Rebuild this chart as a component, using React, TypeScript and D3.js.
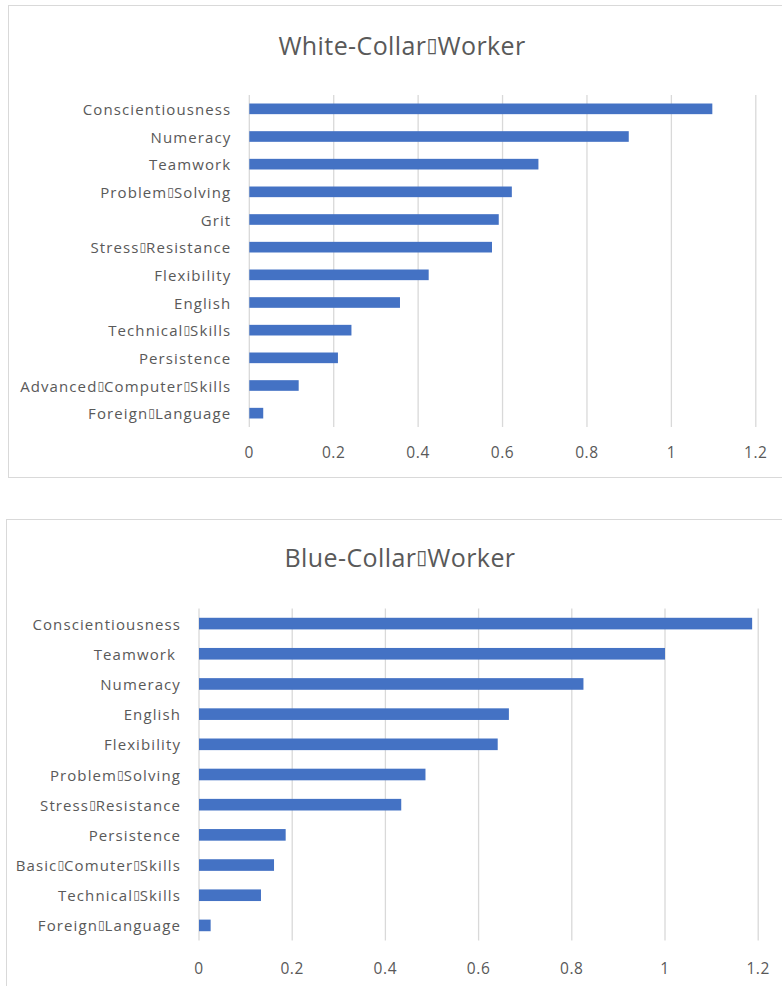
import React, { useEffect, useRef } from 'react';
import * as d3 from 'd3';

// the source shows a missing-glyph box where the spaces should be
const SEP = '\u25AF';

const whiteCategories = [
  'Conscientiousness',
  'Numeracy',
  'Teamwork',
  `Problem${SEP}Solving`,
  'Grit',
  `Stress${SEP}Resistance`,
  'Flexibility',
  'English',
  `Technical${SEP}Skills`,
  'Persistence',
  `Advanced${SEP}Computer${SEP}Skills`,
  `Foreign${SEP}Language`,
];
const whiteValues = [1.097, 0.899, 0.685, 0.622, 0.591, 0.575, 0.425, 0.357, 0.242, 0.21, 0.117, 0.033];

const blueCategories = [
  'Conscientiousness',
  'Teamwork ',
  'Numeracy',
  'English',
  'Flexibility',
  `Problem${SEP}Solving`,
  `Stress${SEP}Resistance`,
  'Persistence',
  `Basic${SEP}Comuter${SEP}Skills`,
  `Technical${SEP}Skills`,
  `Foreign${SEP}Language`,
];
const blueValues = [1.187, 1.0, 0.825, 0.665, 0.641, 0.486, 0.434, 0.186, 0.161, 0.133, 0.025];

const xTicks = [0, 0.2, 0.4, 0.6, 0.8, 1, 1.2];

const FONT = '"Open Sans", Calibri, sans-serif';
const TEXT = '#595959';

type Layout = {
  box: { x: number; y: number; w: number; h: number };
  left: number;
  right: number;
  top: number;
  bottom: number;
  titleX: number;
  titleY: number;
  tickY: number;
};

type Props = {
  title: string;
  categories: string[];
  values: number[];
  layout: Layout;
};

// draw the box glyph a bit smaller, from a font that has it
function writeBoxed(sel: d3.Selection<SVGTextElement, any, any, any>, str: string, size: number) {
  str.split(SEP).forEach((p, i) => {
    if (i > 0) {
      sel.append('tspan')
        .style('font-family', '"DejaVu Sans"')
        .style('font-size', `${size * 0.8}px`)
        .style('letter-spacing', '0px')
        .text(SEP);
    }
    sel.append('tspan').text(p);
  });
}

const BarChart: React.FC<Props> = ({ title, categories, values, layout }) => {
  const gRef = useRef<SVGGElement>(null);

  useEffect(() => {
    const g = d3.select(gRef.current);
    g.selectAll('*').remove();

    const x = d3.scaleLinear().domain([0, 1.2]).range([layout.left, layout.right]);
    const y = d3.scaleBand<string>()
      .domain(categories)
      .range([layout.top, layout.bottom])
      .paddingInner(0.615)
      .paddingOuter(0.3075);

    g.append('rect')
      .attr('x', layout.box.x)
      .attr('y', layout.box.y)
      .attr('width', layout.box.w)
      .attr('height', layout.box.h)
      .attr('fill', '#fff')
      .attr('stroke', '#d9d9d9')
      .attr('stroke-width', 1);

    const t = g.append('text')
      .attr('x', layout.titleX)
      .attr('y', layout.titleY)
      .attr('text-anchor', 'middle')
      .attr('dominant-baseline', 'central')
      .style('font-family', FONT)
      .style('font-size', '25px')
      .style('letter-spacing', '0.4px')
      .attr('fill', TEXT);
    writeBoxed(t, title, 25);

    // vertical gridlines
    g.append('g')
      .selectAll('line')
      .data(xTicks)
      .enter().append('line')
      .attr('x1', d => x(d))
      .attr('x2', d => x(d))
      .attr('y1', layout.top)
      .attr('y2', layout.bottom)
      .attr('stroke', '#d9d9d9')
      .attr('stroke-width', 1.3);

    g.append('g')
      .selectAll('rect')
      .data(values)
      .enter().append('rect')
      .attr('x', x(0))
      .attr('y', (_, i) => y(categories[i]) as number)
      .attr('width', d => x(d) - x(0))
      .attr('height', y.bandwidth())
      .attr('fill', '#4472C4');

    g.append('g')
      .selectAll('text')
      .data(categories)
      .enter().append('text')
      .attr('x', layout.left - 18)
      .attr('y', d => (y(d) as number) + y.bandwidth() / 2)
      .attr('text-anchor', 'end')
      .attr('dominant-baseline', 'central')
      .style('white-space', 'pre')
      .style('font-family', FONT)
      .style('font-size', '15px')
      .style('letter-spacing', '1.1px')
      .attr('fill', TEXT)
      .each(function (d) {
        writeBoxed(d3.select(this as SVGTextElement), d, 15);
      });

    g.append('g')
      .selectAll('text')
      .data(xTicks)
      .enter().append('text')
      .attr('x', d => x(d))
      .attr('y', layout.tickY)
      .attr('text-anchor', 'middle')
      .attr('dominant-baseline', 'central')
      .style('font-family', FONT)
      .style('font-size', '15.5px')
      .style('letter-spacing', '0.6px')
      .attr('fill', TEXT)
      .text(d => d3.format('~g')(d));
  }, [title, categories, values, layout]);

  return <g ref={gRef}></g>;
};

const whiteLayout: Layout = {
  box: { x: 8.5, y: 5.5, w: 800, h: 472 },
  left: 249.3,
  right: 755.8,
  top: 95,
  bottom: 427,
  titleX: 402,
  titleY: 45,
  tickY: 452,
};

const blueLayout: Layout = {
  box: { x: 6.5, y: 519.5, w: 800, h: 500 },
  left: 199,
  right: 758.2,
  top: 608.5,
  bottom: 940.5,
  titleX: 400,
  titleY: 557,
  tickY: 968,
};

export default function App() {
  return (
    <div style={{ position: 'absolute', left: 0, top: 0 }}>
      <svg width={782} height={986} style={{ display: 'block', background: '#fff' }}>
        <BarChart title={`White-Collar${SEP}Worker`} categories={whiteCategories} values={whiteValues} layout={whiteLayout} />
        <BarChart title={`Blue-Collar${SEP}Worker`} categories={blueCategories} values={blueValues} layout={blueLayout} />
      </svg>
    </div>
  );
}
